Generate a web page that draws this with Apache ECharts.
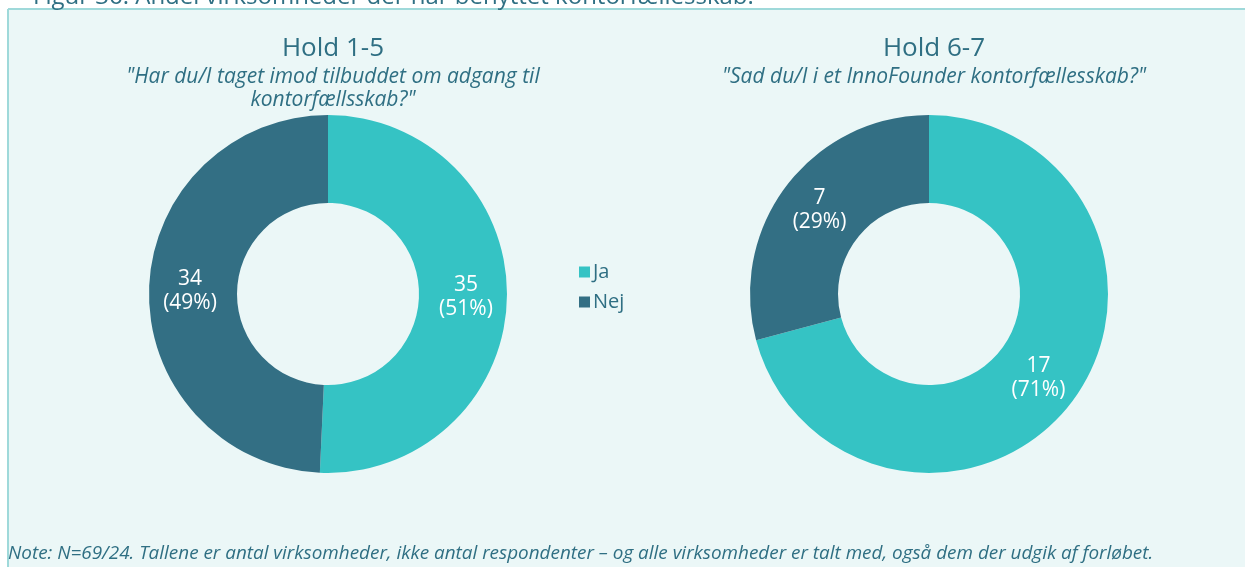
<!DOCTYPE html>
<html>
<head>
<meta charset="utf-8">
<style>
  html, body { margin: 0; padding: 0; background: #ffffff; }
  #chart { width: 1245px; height: 567px; }
</style>
<script src="https://cdn.jsdelivr.net/npm/echarts@6/dist/echarts.min.js"></script>
</head>
<body>
<div id="chart"></div>
<script>
// Answers per cohort group
const categories = ['Ja', 'Nej'];
const hold15 = [35, 34];
const hold67 = [17, 7];

const panelTitles = ['Hold 1-5', 'Hold 6-7'];
const panelQuestions = [
  '"Har du/I taget imod tilbuddet om adgang til\nkontorfællsskab?"',
  '"Sad du/I i et InnoFounder kontorfællesskab?"'
];
const figureTitle = 'Figur 36: Andel virksomheder der har benyttet kontorfællesskab:';
const noteText = 'Note: N=69/24. Tallene er antal virksomheder, ikke antal respondenter – og alle virksomheder er talt med, også dem der udgik af forløbet.';

const colors = ['#35C3C4', '#336F84'];
const textColor = '#2F6F83';
const fontFamily = '"Open Sans", "Noto Sans", sans-serif';

const chart = echarts.init(document.getElementById('chart'), null, { renderer: 'canvas' });

function pieSeries(name, values, cx) {
  return {
    name: name,
    type: 'pie',
    center: [cx, 294],
    radius: [91, 179],
    startAngle: 90,
    clockwise: true,
    percentPrecision: 0,
    avoidLabelOverlap: false,
    silent: true,
    itemStyle: { borderWidth: 0 },
    label: {
      show: true,
      position: 'inside',
      formatter: '{c}\n({d}%)',
      color: '#ffffff',
      fontSize: 21,
      lineHeight: 24,
      fontFamily: fontFamily
    },
    labelLine: { show: false },
    data: categories.map((c, i) => ({ name: c, value: values[i] }))
  };
}

const titleStyle = { color: textColor, fontSize: 26, fontWeight: 'normal', fontFamily: fontFamily };
const questionStyle = { color: textColor, fontSize: 21, fontStyle: 'italic', lineHeight: 23, fontFamily: fontFamily, align: 'center' };

const option = {
  backgroundColor: '#ffffff',
  color: colors,
  animation: false,
  graphic: [
    {
      type: 'rect',
      shape: { x: 8, y: 9, width: 1245, height: 570 },
      style: { fill: '#EBF7F7' },
      z: -10
    },
    {
      type: 'line',
      shape: { x1: 8, y1: 9, x2: 1245, y2: 9 },
      style: { stroke: '#9FD9DA', lineWidth: 2 },
      z: -9
    },
    {
      type: 'line',
      shape: { x1: 8, y1: 9, x2: 8, y2: 567 },
      style: { stroke: '#9FD9DA', lineWidth: 2 },
      z: -9
    },
    {
      type: 'text',
      left: 33,
      top: -15,
      style: {
        text: figureTitle,
        fill: textColor,
        font: '24px ' + fontFamily
      },
      z: -8
    }
  ],
  title: [
    {
      text: panelTitles[0],
      subtext: panelQuestions[0],
      left: 328,
      top: 31,
      textAlign: 'center',
      itemGap: 4,
      textStyle: titleStyle,
      subtextStyle: questionStyle
    },
    {
      text: panelTitles[1],
      subtext: panelQuestions[1],
      left: 929,
      top: 31,
      textAlign: 'center',
      itemGap: 4,
      textStyle: titleStyle,
      subtextStyle: questionStyle
    },
    {
      text: noteText,
      left: 3,
      top: 539,
      textStyle: { color: textColor, fontSize: 18.9, fontWeight: 'normal', fontStyle: 'italic', fontFamily: fontFamily }
    }
  ],
  legend: {
    orient: 'vertical',
    left: 574,
    top: 257,
    itemWidth: 11,
    itemHeight: 11,
    itemGap: 10,
    icon: 'rect',
    selectedMode: false,
    data: categories,
    textStyle: { color: textColor, fontSize: 20, fontFamily: fontFamily, padding: [0, 0, 0, -2] }
  },
  series: [
    pieSeries('Hold 1-5', hold15, 328),
    pieSeries('Hold 6-7', hold67, 929)
  ]
};

chart.setOption(option);
</script>
</body>
</html>
